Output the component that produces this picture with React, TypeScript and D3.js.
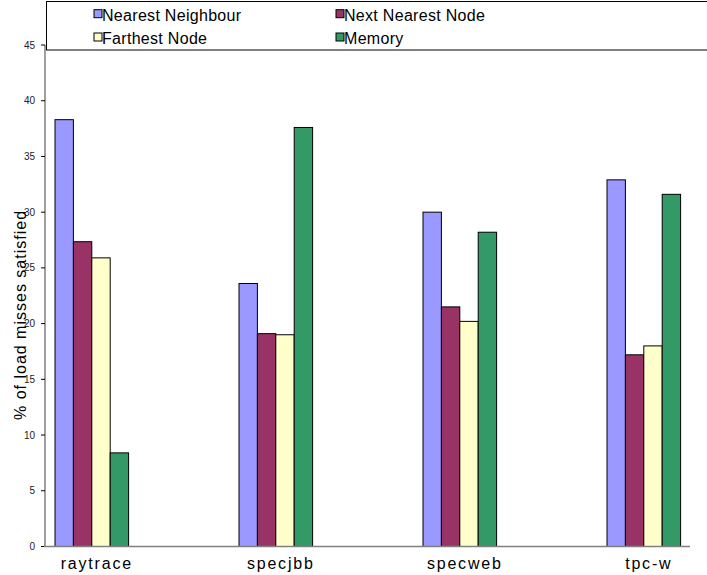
import React from "react";
import * as d3 from "d3";

const categories = ["raytrace", "specjbb", "specweb", "tpc-w"];
const series = ["Nearest Neighbour", "Next Nearest Node", "Farthest Node", "Memory"];
const nearestNeighbour = [38.3, 23.6, 30.0, 32.9];
const nextNearestNode = [27.35, 19.1, 21.5, 17.2];
const farthestNode = [25.9, 19.0, 20.2, 18.0];
const memory = [8.4, 37.6, 28.2, 31.6];
const yTicks = [0, 5, 10, 15, 20, 25, 30, 35, 40, 45];
const colors = ["#9999FF", "#993366", "#FFFFCC", "#339966"];

const W = 707;
const H = 575;

export default function App() {
  const values = [nearestNeighbour, nextNearestNode, farthestNode, memory];
  const y = d3.scaleLinear().domain([0, 45]).range([546.5, 45]);
  const x = d3
    .scaleBand<string>()
    .domain(categories)
    .range([-0.2, 735.8])
    .paddingInner(0.6)
    .paddingOuter(0.3);
  const xs = d3.scaleBand<string>().domain(series).range([0, x.bandwidth()]);
  const font = "'Liberation Sans', Arial, sans-serif";

  const legendPos = [
    { sx: 94, tx: 102, base: 20.7 },
    { sx: 336, tx: 344, base: 20.7 },
    { sx: 94, tx: 102, base: 44 },
    { sx: 336, tx: 344, base: 44 },
  ];

  return (
    <svg
      width={W}
      height={H}
      style={{ position: "absolute", left: 0, top: 0, background: "#fff" }}
      fontFamily={font}
    >
      <rect x={0} y={0} width={W} height={H} fill="#fff" />
      {/* bars */}
      {categories.map((c, ci) => (
        <g key={c}>
          {series.map((s, si) => {
            const v = values[si][ci];
            return (
              <rect
                key={s}
                x={(x(c) as number) + (xs(s) as number)}
                y={y(v)}
                width={xs.bandwidth()}
                height={y(0) - y(v)}
                fill={colors[si]}
                stroke="#000"
                strokeWidth={1}
              />
            );
          })}
        </g>
      ))}
      {/* y axis */}
      <line x1={45} x2={45} y1={y(45)} y2={y(0)} stroke="#808080" strokeWidth={1.5} />
      {yTicks.map((t) => (
        <g key={t}>
          <line x1={41} x2={45} y1={y(t)} y2={y(t)} stroke="#000" strokeWidth={1} />
          <text
            x={35}
            y={y(t)}
            dy="0.35em"
            textAnchor="end"
            fontSize={10}
            fill="#222"
          >
            {t}
          </text>
        </g>
      ))}
      {/* x axis */}
      <line x1={44} x2={690} y1={y(0)} y2={y(0)} stroke="#808080" strokeWidth={1.5} />
      {categories.map((c) => (
        <text
          key={c}
          x={(x(c) as number) + x.bandwidth() / 2 + 5}
          y={569}
          textAnchor="middle"
          fontSize={16}
          letterSpacing={1.8}
          fill="#000"
        >
          {c}
        </text>
      ))}
      {/* y label */}
      <text
        transform={`translate(26,315) rotate(-90)`}
        textAnchor="middle"
        fontSize={16}
        letterSpacing={1}
        fill="#000"
      >
        % of load misses satisfied
      </text>
      {/* legend */}
      <rect x={46.5} y={1.5} width={700} height={48.5} fill="#fff" stroke="#000" strokeWidth={1} />
      {series.map((s, i) => (
        <g key={s}>
          <rect
            x={legendPos[i].sx}
            y={legendPos[i].base - 11}
            width={8}
            height={8}
            fill={colors[i]}
            stroke="#000"
            strokeWidth={1}
          />
          <text
            x={legendPos[i].tx}
            y={legendPos[i].base}
            fontSize={16}
            letterSpacing={0.3}
            fill="#000"
          >
            {s}
          </text>
        </g>
      ))}
    </svg>
  );
}
